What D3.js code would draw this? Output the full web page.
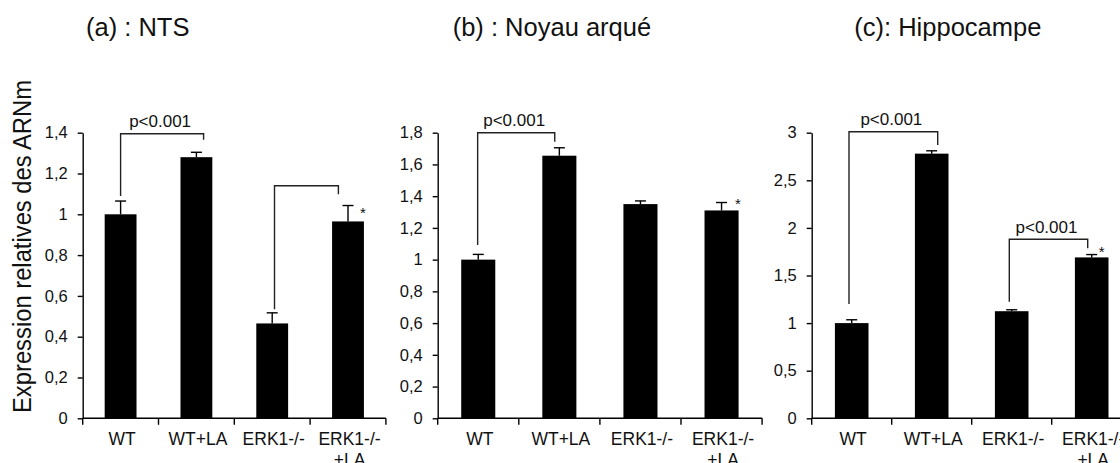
<!DOCTYPE html>
<html>
<head>
<meta charset="utf-8">
<script src="https://cdn.jsdelivr.net/npm/d3@7"></script>
<style>
  html, body { margin: 0; padding: 0; background: #fff; }
  svg { display: block; }
  text { font-family: "Liberation Sans", Arial, sans-serif; fill: #111; }
</style>
</head>
<body>
<svg id="chart" width="1120" height="463"></svg>
<script>
// ---------- data ----------
const categories = ["WT", "WT+LA", "ERK1-/-", "ERK1-/-|+LA"];
const panelTitles = ["(a) : NTS", "(b) : Noyau arqué", "(c): Hippocampe"];
const yAxisTitle = "Expression relatives des ARNm";

const ntsValues = [1.0, 1.28, 0.465, 0.965];
const ntsErrors = [0.065, 0.024, 0.052, 0.078];
const arcValues = [1.0, 1.655, 1.35, 1.31];
const arcErrors = [0.033, 0.05, 0.02, 0.05];
const hipValues = [1.0, 2.78, 1.125, 1.69];
const hipErrors = [0.035, 0.03, 0.015, 0.03];

const ntsTicks = [0, 0.2, 0.4, 0.6, 0.8, 1, 1.2, 1.4];
const arcTicks = [0, 0.2, 0.4, 0.6, 0.8, 1, 1.2, 1.4, 1.6, 1.8];
const hipTicks = [0, 0.5, 1, 1.5, 2, 2.5, 3];

// significance brackets: [from category, to category, top level, left leg end, right leg end, label]
const ntsBrackets = [[0, 1, 1.395, 1.09, 1.365, "p<0.001"], [2, 3, 1.14, 0.535, 1.098, ""]];
const arcBrackets = [[0, 1, 1.8, 1.092, 1.743, "p<0.001"]];
const hipBrackets = [[0, 1, 3.01, 1.2, 2.87, "p<0.001"], [2, 3, 1.88, 1.225, 1.786, "p<0.001"]];
// asterisk: [category, level]
const ntsStars = [[3, 1.026]];
const arcStars = [[3, 1.376]];
const hipStars = [[3, 1.789]];

// ---------- layout (positions / styles only) ----------
const Y0 = 418.3, YTOP = 132.7;
const layout = [
  { x0: 82.7,  step: 75.8, titleX: 86,    legDx: [[0, 7.2], [2.3, -9.6]], starDx: 15 },
  { x0: 437.7, step: 81.1, titleX: 452.7, legDx: [[-0.6, -4.6]],          starDx: 16.4 },
  { x0: 811.7, step: 80.0, titleX: 854.3, legDx: [[-2.7, 6], [-2.4, -4]], starDx: 10 }
];
const panels = [
  { values: ntsValues, errors: ntsErrors, ticks: ntsTicks, brackets: ntsBrackets, stars: ntsStars },
  { values: arcValues, errors: arcErrors, ticks: arcTicks, brackets: arcBrackets, stars: arcStars },
  { values: hipValues, errors: hipErrors, ticks: hipTicks, brackets: hipBrackets, stars: hipStars }
];

const svg = d3.select("#chart");
const fmt = d => String(+d.toFixed(2)).replace(".", ",");
const LW = 1.4;

panels.forEach((p, pi) => {
  const L = layout[pi];
  const g = svg.append("g");
  const x = d3.scaleBand().domain(categories)
    .range([L.x0, L.x0 + 4 * L.step]).paddingInner(0.58).paddingOuter(0.29);
  const y = d3.scaleLinear().domain([0, d3.max(p.ticks)]).range([Y0, YTOP]);
  const cx = i => x(categories[i]) + x.bandwidth() / 2;

  // title
  g.append("text").attr("x", L.titleX).attr("y", 35.5)
    .style("font-size", "25.5px").text(panelTitles[pi]);

  // bars
  g.selectAll("rect.bar").data(p.values).join("rect")
    .attr("class", "bar")
    .attr("x", (d, i) => x(categories[i]))
    .attr("width", x.bandwidth())
    .attr("y", d => y(d))
    .attr("height", d => Y0 - y(d))
    .attr("fill", "#000");

  // error bars (upper only)
  p.values.forEach((v, i) => {
    const top = y(v + p.errors[i]);
    g.append("line").attr("x1", cx(i)).attr("x2", cx(i))
      .attr("y1", y(v)).attr("y2", top)
      .attr("stroke", "#000").attr("stroke-width", LW);
    g.append("line").attr("x1", cx(i) - 5.5).attr("x2", cx(i) + 5.5)
      .attr("y1", top).attr("y2", top)
      .attr("stroke", "#000").attr("stroke-width", LW);
  });

  // y axis
  const ya = d3.axisLeft(y).tickValues(p.ticks).tickFormat(fmt)
    .tickSize(5).tickSizeOuter(0).tickPadding(10);
  const yg = g.append("g").attr("transform", `translate(${L.x0},0)`).call(ya);
  yg.select(".domain").attr("stroke", "#000").attr("stroke-width", LW);
  yg.selectAll(".tick line").attr("stroke", "#000").attr("stroke-width", LW);
  yg.selectAll(".tick text").style("font-size", "16.5px")
    .style("font-family", "'Liberation Sans', Arial, sans-serif").attr("fill", "#111");

  // x axis: baseline with ticks at category boundaries
  const xEnd = L.x0 + 4 * L.step;
  g.append("line").attr("x1", L.x0).attr("x2", xEnd).attr("y1", Y0).attr("y2", Y0)
    .attr("stroke", "#000").attr("stroke-width", LW);
  d3.range(5).forEach(k => {
    const bx = k < 4 ? x(categories[k]) - x.step() * 0.29 : xEnd;
    g.append("line").attr("x1", bx).attr("x2", bx).attr("y1", Y0).attr("y2", Y0 + 6.5)
      .attr("stroke", "#000").attr("stroke-width", LW);
  });

  // category labels
  categories.forEach((c, i) => {
    const lines = c.split("|");
    const t = g.append("text").attr("text-anchor", "middle").style("font-size", "17.5px");
    lines.forEach((ln, li) => {
      t.append("tspan").attr("x", cx(i) + 1.5).attr("y", 445 + li * 20.5).text(ln);
    });
  });

  // brackets
  p.brackets.forEach((b, bi) => {
    const [from, to, top, lEnd, rEnd, label] = b;
    const lx = cx(from) + L.legDx[bi][0];
    const rx = cx(to) + L.legDx[bi][1];
    const path = d3.path();
    path.moveTo(lx, y(lEnd));
    path.lineTo(lx, y(top));
    path.lineTo(rx, y(top));
    path.lineTo(rx, y(rEnd));
    g.append("path").attr("d", path.toString()).attr("fill", "none")
      .attr("stroke", "#222").attr("stroke-width", LW);
    if (label) {
      g.append("text").attr("x", (lx + rx) / 2 - 2).attr("y", y(top) - 6.5)
        .attr("text-anchor", "middle").style("font-size", "17px").text(label);
    }
  });

  // asterisks
  p.stars.forEach(s => {
    g.append("text").attr("x", cx(s[0]) + L.starDx).attr("y", y(s[1]) + 8.6)
      .attr("text-anchor", "middle").style("font-size", "15px").text("*");
  });
});

// shared y-axis title
svg.append("text")
  .attr("transform", "translate(31,246.5) rotate(-90)")
  .attr("text-anchor", "middle")
  .attr("textLength", 333).attr("lengthAdjust", "spacingAndGlyphs")
  .style("font-size", "25px")
  .text(yAxisTitle);
</script>
</body>
</html>
